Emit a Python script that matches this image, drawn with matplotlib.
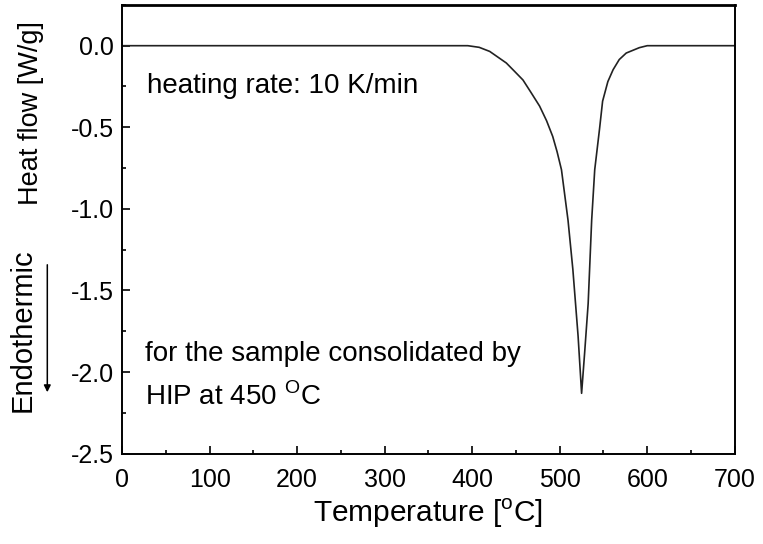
import matplotlib
matplotlib.use('Agg')
import matplotlib.pyplot as plt
from matplotlib.ticker import MultipleLocator

plt.rcParams['font.family'] = ['Liberation Sans', 'DejaVu Sans']
plt.rcParams['mathtext.fontset'] = 'custom'
plt.rcParams['mathtext.rm'] = 'Liberation Sans'

# DSC trace
temperature = [0, 395, 408, 420, 439, 448, 458, 467, 477, 485, 492, 497, 502,
               509.5, 515, 521, 525, 528.5, 532.5, 536.5, 540, 545.5, 549,
               555, 561, 568, 576, 591, 600, 700]
heat_flow = [0, 0, -0.01, -0.035, -0.106, -0.155, -0.21, -0.285, -0.37,
             -0.46, -0.556, -0.65, -0.76, -1.07, -1.37, -1.78, -2.13, -1.88,
             -1.58, -1.07, -0.76, -0.51, -0.34, -0.22, -0.147, -0.085,
             -0.045, -0.012, 0, 0]

fig = plt.figure(figsize=(7.63, 5.44), dpi=100)
ax = fig.add_axes([0.160, 0.166, 0.803, 0.825])

ax.plot(temperature, heat_flow, color='#222222', lw=1.2)

ax.set_xlim(0, 700)
ax.set_ylim(-2.5, 0.25)
ax.xaxis.set_major_locator(MultipleLocator(100))
ax.xaxis.set_minor_locator(MultipleLocator(50))
ax.yaxis.set_minor_locator(MultipleLocator(0.25))
ax.set_yticks([0.0, -0.5, -1.0, -1.5, -2.0, -2.5])
ax.set_yticklabels(['0.0', '-0.5', '-1.0', '-1.5', '-2.0', '-2.5'])

ax.tick_params(which='both', direction='in', top=False, right=False,
               labelsize=18, width=1.2)
ax.tick_params(axis='x', pad=10)
ax.tick_params(axis='y', pad=6)
ax.tick_params(which='major', length=6)
ax.tick_params(which='minor', length=3)
for side in ('left', 'bottom', 'right'):
    ax.spines[side].set_linewidth(1.4)
ax.spines['top'].set_linewidth(2.0)

ax.set_xlabel(r'Temperature [$^{\mathregular{o}}$C]', fontsize=21.5,
              labelpad=4)

fig.text(0.040, 0.792, 'Heat flow [W/g]', rotation=90, fontsize=19.5,
         ha='center', va='center')
fig.text(0.030, 0.393, 'Endothermic', rotation=90, fontsize=21,
         ha='center', va='center')
fig.add_artist(matplotlib.patches.FancyArrowPatch(
    (0.062, 1 - 262 / 544), (0.062, 1 - 395 / 544),
    transform=fig.transFigure, arrowstyle='-|>', mutation_scale=10,
    lw=1.1, color='black'))

ax.text(28, -0.245, 'heating rate: 10 K/min', fontsize=20, va='center')
ax.text(26, -1.89, 'for the sample consolidated by', fontsize=20, va='center')
ax.text(26, -2.15, r'HIP at 450 $^{\mathregular{O}}$C', fontsize=20,
        va='center')

fig.savefig('out.png', dpi=100)
